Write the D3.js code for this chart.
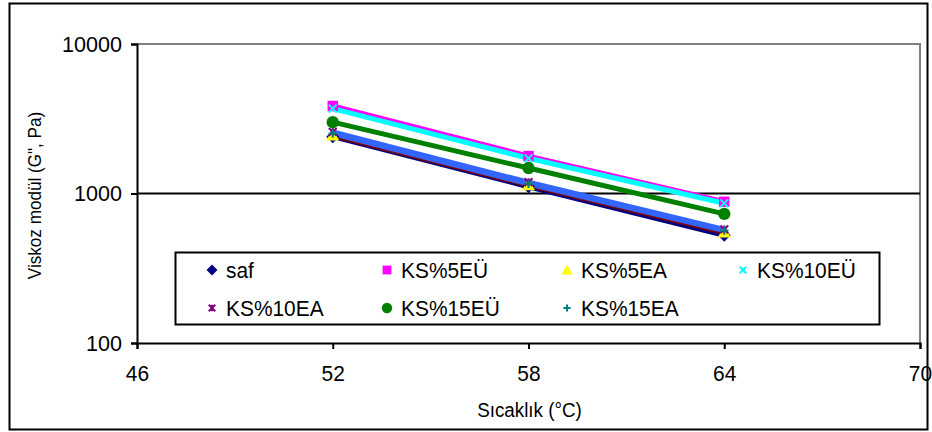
<!DOCTYPE html>
<html>
<head>
<meta charset="utf-8">
<script src="https://cdn.jsdelivr.net/npm/d3@7"></script>
<style>
  body { margin: 0; background: #fff; }
  svg text { font-family: "Liberation Sans", Arial, sans-serif; fill: #000; }
</style>
</head>
<body>
<svg id="chart" width="932" height="432"></svg>
<script>
// ---------------- data ----------------
const temps = [52, 58, 64];
const xTicks = [46, 52, 58, 64, 70];
const yTicks = [100, 1000, 10000];

const saf      = [2400, 1110, 525];
const ks5EU    = [3850, 1780, 880];
const ks5EA    = [2450, 1140, 550];
const ks10EU   = [3700, 1720, 860];
const ks10EA   = [2580, 1190, 575];
const ks15EU   = [3000, 1480, 730];
const ks15EA   = [2520, 1160, 565];

const seriesNames = ["saf", "KS%5EÜ", "KS%5EA", "KS%10EÜ", "KS%10EA", "KS%15EÜ", "KS%15EA"];

// series table (draw order: back to front)
const series = [
  { name: seriesNames[0], values: saf,    marker: "diamond",  mcol: "#000080", lcol: "#000080" },
  { name: seriesNames[2], values: ks5EA,  marker: "triangle", mcol: "#ffff00", lcol: "#800000" },
  { name: seriesNames[4], values: ks10EA, marker: "star",     mcol: "#800080", lcol: "#3366ff" },
  { name: seriesNames[6], values: ks15EA, marker: "plus",     mcol: "#008080", lcol: "#3366ff" },
  { name: seriesNames[5], values: ks15EU, marker: "circle",   mcol: "#008000", lcol: "#008000" },
  { name: seriesNames[1], values: ks5EU,  marker: "square",   mcol: "#ff00ff", lcol: "#ff00ff" },
  { name: seriesNames[3], values: ks10EU, marker: "cross",    mcol: "#00ffff", lcol: "#00ffff" }
];

// ---------------- layout ----------------
const svg = d3.select("#chart");
const plot = { left: 137, right: 920, top: 44, bottom: 343 };

const x = d3.scaleLinear().domain([46, 70]).range([plot.left, plot.right]);
const y = d3.scaleLog().domain([100, 10000]).range([plot.bottom, plot.top]);

// squeeze text horizontally a bit (the original font is taller / narrower)
function squeeze(sel, k) {
  sel.each(function () {
    const w = this.getComputedTextLength();
    d3.select(this).attr("textLength", w * k).attr("lengthAdjust", "spacingAndGlyphs");
  });
}

// outer frame
svg.append("rect").attr("x", 9.5).attr("y", 3.5).attr("width", 918).attr("height", 426)
  .attr("fill", "none").attr("stroke", "#000").attr("stroke-width", 2);

// plot border top/right (grey)
svg.append("path")
  .attr("d", `M${plot.left},${plot.top}H${plot.right}V${plot.bottom}`)
  .attr("fill", "none").attr("stroke", "#808080").attr("stroke-width", 2);

// grid line at 1000
svg.append("line")
  .attr("x1", plot.left).attr("x2", plot.right)
  .attr("y1", y(1000)).attr("y2", y(1000))
  .attr("stroke", "#000").attr("stroke-width", 2);

// axes
const xAxis = svg.append("g").attr("transform", `translate(0,${plot.bottom})`)
  .call(d3.axisBottom(x).tickValues(xTicks).tickSize(6).tickPadding(16).tickFormat(d3.format("d")));
const yAxis = svg.append("g").attr("transform", `translate(${plot.left},0)`)
  .call(d3.axisLeft(y).tickValues(yTicks).tickSize(6).tickPadding(9).tickFormat(d3.format("d")));
[xAxis, yAxis].forEach(a => {
  a.select(".domain").attr("stroke", "#000").attr("stroke-width", 2);
  a.selectAll(".tick line").attr("stroke", "#000").attr("stroke-width", 2);
  a.selectAll("text").attr("font-size", 22).style("font-family", "'Liberation Sans', Arial, sans-serif");
});
squeeze(xAxis.selectAll("text"), 0.95);
squeeze(yAxis.selectAll("text"), 0.98);

// axis titles
const xt = svg.append("text").attr("x", (plot.left + plot.right) / 2 + 1).attr("y", 417)
  .attr("text-anchor", "middle").attr("font-size", 20).text("Sıcaklık (°C)");
squeeze(xt, 0.94);
const yt = svg.append("text").attr("transform", `translate(41,${(plot.top + plot.bottom) / 2 + 2}) rotate(-90)`)
  .attr("text-anchor", "middle").attr("font-size", 19).text("Viskoz modül (G\", Pa)");
squeeze(yt, 0.9);

// markers
function drawMarker(g, type, color, size) {
  const s = size;
  if (type === "diamond") {
    g.append("path").attr("d", `M0,${-s}L${s},0L0,${s}L${-s},0Z`).attr("fill", color);
  } else if (type === "square") {
    g.append("rect").attr("x", -s * 0.8).attr("y", -s * 0.8).attr("width", s * 1.6).attr("height", s * 1.6).attr("fill", color);
  } else if (type === "triangle") {
    g.append("path").attr("d", `M0,${-s}L${s},${s * 0.8}L${-s},${s * 0.8}Z`).attr("fill", color);
  } else if (type === "circle") {
    g.append("circle").attr("r", s * 0.95).attr("fill", color);
  } else if (type === "cross") {
    const c = s * 0.6;
    g.append("path").attr("d", `M${-c},${-c}L${c},${c}M${c},${-c}L${-c},${c}`).attr("stroke", color).attr("stroke-width", 2);
  } else if (type === "plus") {
    const c = s * 0.65;
    g.append("path").attr("d", `M${-c},0H${c}M0,${-c}V${c}`).attr("stroke", color).attr("stroke-width", 2);
  } else if (type === "star") {
    const c = s * 0.6;
    g.append("path").attr("d", `M${-c},${-c}L${c},${c}M${c},${-c}L${-c},${c}M0,${-c}V${c}`).attr("stroke", color).attr("stroke-width", 2);
  }
}

const line = d3.line().x((d, i) => x(temps[i])).y(d => y(d));

series.forEach(s => {
  svg.append("path").datum(s.values).attr("d", line)
    .attr("fill", "none").attr("stroke", s.lcol).attr("stroke-width", 5)
    .attr("stroke-linecap", "round");
});
series.forEach(s => {
  s.values.forEach((v, i) => {
    const g = svg.append("g").attr("transform", `translate(${x(temps[i])},${y(v)})`);
    drawMarker(g, s.marker, s.mcol, 6.5);
  });
});

// legend
svg.append("rect").attr("x", 175.5).attr("y", 252.5).attr("width", 704).attr("height", 72)
  .attr("fill", "#fff").attr("stroke", "#000").attr("stroke-width", 2);

const legendOrder = [
  { name: seriesNames[0], marker: "diamond",  col: "#000080" },
  { name: seriesNames[1], marker: "square",   col: "#ff00ff" },
  { name: seriesNames[2], marker: "triangle", col: "#ffff00" },
  { name: seriesNames[3], marker: "cross",    col: "#00ffff" },
  { name: seriesNames[4], marker: "star",     col: "#800080" },
  { name: seriesNames[5], marker: "circle",   col: "#008000" },
  { name: seriesNames[6], marker: "plus",     col: "#008080" }
];
const colX = [212, 387, 567, 743];
const rowY = [270, 308];
legendOrder.forEach((d, i) => {
  const cx = colX[i % 4], cy = rowY[Math.floor(i / 4)];
  const g = svg.append("g").attr("transform", `translate(${cx},${cy})`);
  drawMarker(g, d.marker, d.col, 5.5);
  const t = svg.append("text").attr("x", cx + 14).attr("y", cy + 8).attr("font-size", 22).text(d.name);
  squeeze(t, 0.95);
});
</script>
</body>
</html>
